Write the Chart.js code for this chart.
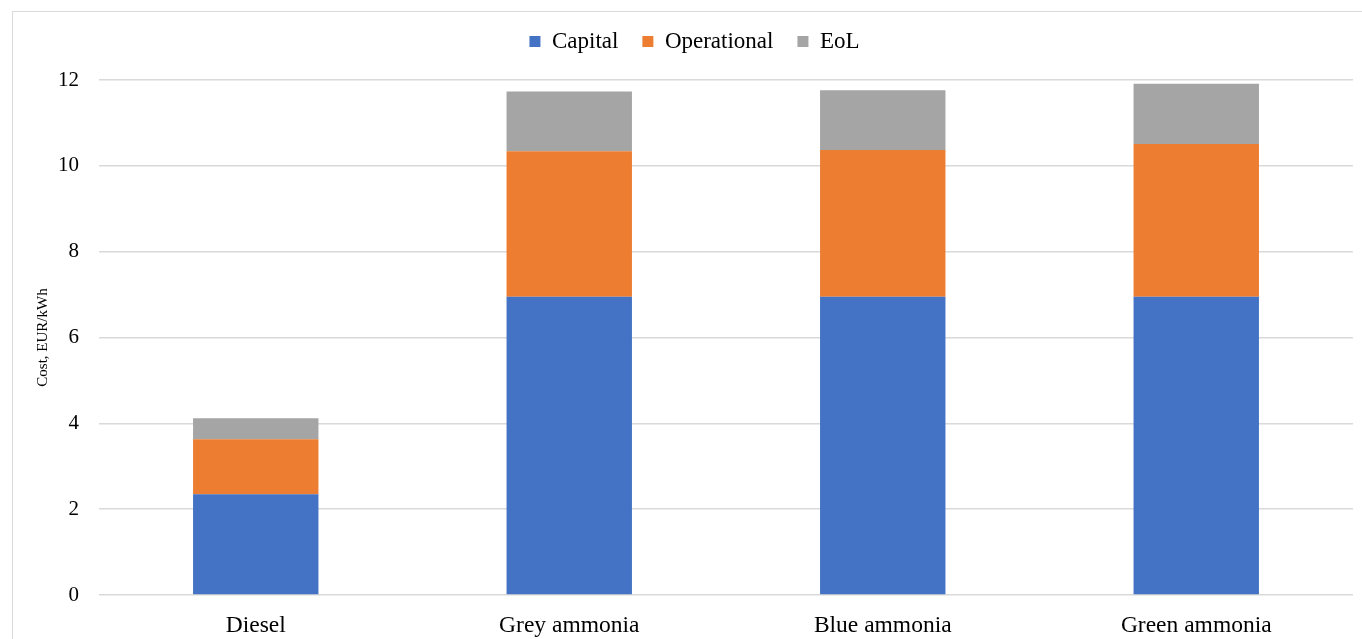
<!DOCTYPE html>
<html>
<head>
<meta charset="utf-8">
<script src="https://cdn.jsdelivr.net/npm/chart.js@4.4.0/dist/chart.umd.min.js"></script>
<style>
  html, body { margin: 0; padding: 0; background: #fff; }
  #wrap { width: 1362px; height: 639px; position: relative; }
</style>
</head>
<body>
<div id="wrap"><canvas id="myChart"></canvas></div>
<script>
// Data
const CATEGORIES = ['Diesel', 'Grey ammonia', 'Blue ammonia', 'Green ammonia'];
const CAPITAL = [2.35, 6.95, 6.95, 6.95];
const OPERATIONAL = [1.28, 3.39, 3.42, 3.56];
const EOL = [0.49, 1.39, 1.39, 1.40];
const Y_TICKS = [0, 2, 4, 6, 8, 10, 12];

const colors = {
    capital: '#4472C4',
    operational: '#ED7D31',
    eol: '#A5A5A5',
    grid: '#D9D9D9',
    text: '#000000'
};

const serif = "'Liberation Serif', 'Times New Roman', serif";

// frame around the chart, like the Excel chart area border
const framePlugin = {
    id: 'frame',
    beforeInit(chart) {
        // a bit more room under the legend
        const fit = chart.legend.fit;
        chart.legend.fit = function () {
            fit.call(this);
            this.height += 17;
        };
    },
    beforeDraw(chart) {
        const c = chart.ctx;
        c.save();
        c.strokeStyle = '#D9D9D9';
        c.lineWidth = 1;
        c.strokeRect(12.5, 11.5, chart.width + 10, chart.height + 10);
        c.restore();
    }
};

const ctx = document.getElementById('myChart').getContext('2d');
new Chart(ctx, {
    type: 'bar',
    data: {
        labels: CATEGORIES,
        datasets: [
            { label: 'Capital', data: CAPITAL, backgroundColor: colors.capital },
            { label: 'Operational', data: OPERATIONAL, backgroundColor: colors.operational },
            { label: 'EoL', data: EOL, backgroundColor: colors.eol }
        ]
    },
    options: {
        responsive: true,
        maintainAspectRatio: false,
        animation: false,
        categoryPercentage: 1.0,
        barPercentage: 0.4,
        layout: {
            padding: { left: 36, right: 9, top: 6, bottom: 0 }
        },
        scales: {
            x: {
                stacked: true,
                grid: { display: false },
                border: { display: false },
                ticks: {
                    color: colors.text,
                    padding: 9,
                    font: { family: serif, size: 23.5 }
                },
                afterFit: function (scale) { scale.height = 44; }
            },
            y: {
                stacked: true,
                min: 0,
                max: 12,
                afterBuildTicks: function (scale) {
                    scale.ticks = Y_TICKS.map(v => ({ value: v }));
                },
                grid: { color: colors.grid, lineWidth: 1.5, drawTicks: false },
                border: { display: false },
                ticks: {
                    color: colors.text,
                    padding: 20,
                    font: { family: serif, size: 21 }
                },
                title: {
                    display: true,
                    text: 'Cost, EUR/kWh',
                    color: colors.text,
                    padding: { top: 0, bottom: 0 },
                    font: { family: serif, size: 15, lineHeight: 1 }
                },
                afterFit: function (scale) { scale.width = 63; }
            }
        },
        plugins: {
            legend: {
                position: 'top',
                labels: {
                    color: colors.text,
                    boxWidth: 11,
                    boxHeight: 11,
                    padding: 24,
                    font: { family: serif, size: 23 }
                }
            },
            tooltip: { enabled: false }
        }
    },
    plugins: [framePlugin]
});
</script>
</body>
</html>
